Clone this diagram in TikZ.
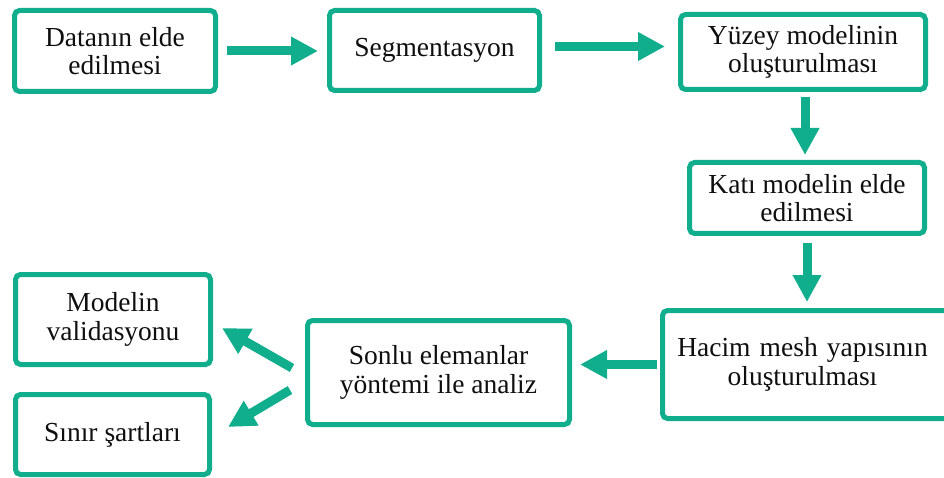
\documentclass[tikz,border=0pt]{standalone}
\usepackage{fontspec}
\setmainfont{Liberation Serif}
\newfontfamily\boxfont{Liberation Serif}
\usetikzlibrary{arrows.meta,calc}
\definecolor{teal1}{RGB}{16,174,140}
\definecolor{txt}{RGB}{15,15,15}
\begin{document}
\begin{tikzpicture}[x=1pt,y=-1pt,
  box/.style={draw=teal1,line width=5pt,rounded corners=5pt,fill=white,
    align=center,inner sep=0pt,text=txt,
    font=\boxfont\fontsize{27.5}{28.5}\selectfont},
  arr/.style={draw=teal1,line width=9pt,
    -{Triangle[width=27pt,length=27pt]}}]
\useasboundingbox (0,0) rectangle (944,478);
\clip (0,0) rectangle (944,478);
\node[box,minimum width=201pt,minimum height=81pt] (A) at (115,51) {Datanın elde\\edilmesi};
\node[box,minimum width=210pt,minimum height=80pt] (B) at (434.5,50.5) {Segmentasyon};
\node[box,minimum width=245pt,minimum height=75pt] (C) at (803,52) {Yüzey modelinin\\oluşturulması};
\node[box,minimum width=235pt,minimum height=71pt] (D) at (807,198) {Katı modelin elde\\edilmesi};
\node[box,minimum width=290pt,minimum height=108pt,text width=290pt] (E) at (807.5,364.5) {\hspace*{-10pt}Hacim mesh yapısının\\\hspace*{-10pt}oluşturulması};
\node[box,minimum width=262pt,minimum height=104pt] (F) at (438.5,372.5) {Sonlu elemanlar\\yöntemi ile analiz};
\node[box,minimum width=195pt,minimum height=90pt] (G) at (113,319.5) {Modelin\\validasyonu};
\node[box,minimum width=194pt,minimum height=80pt] (H) at (112.5,434.5) {Sınır şartları};
\draw[arr,shorten <=9pt,shorten >=9pt] (A.east) -- (A.east -| B.west);
\draw[arr,shorten <=13pt,shorten >=13pt] ([yshift=4pt]B.east) -- ([yshift=4pt]B.east -| C.west);
\draw[arr,shorten <=5pt,shorten >=5pt] ([xshift=2pt]C.south) -- ([xshift=2pt]C.south |- D.north);
\draw[arr,shorten <=7pt,shorten >=6pt] (D.south) -- (D.south |- E.north);
\draw[arr,shorten <=3pt,shorten >=8pt] (E.west) -- (E.west -| F.east);
\draw[arr] ($(F.west)+(-13,-4.5)$) -- ($(G.east)+(9,8.5)$);
\draw[arr] ($(F.west)+(-15,17.5)$) -- ($(H.east)+(16,-7.5)$);
\end{tikzpicture}
\end{document}
